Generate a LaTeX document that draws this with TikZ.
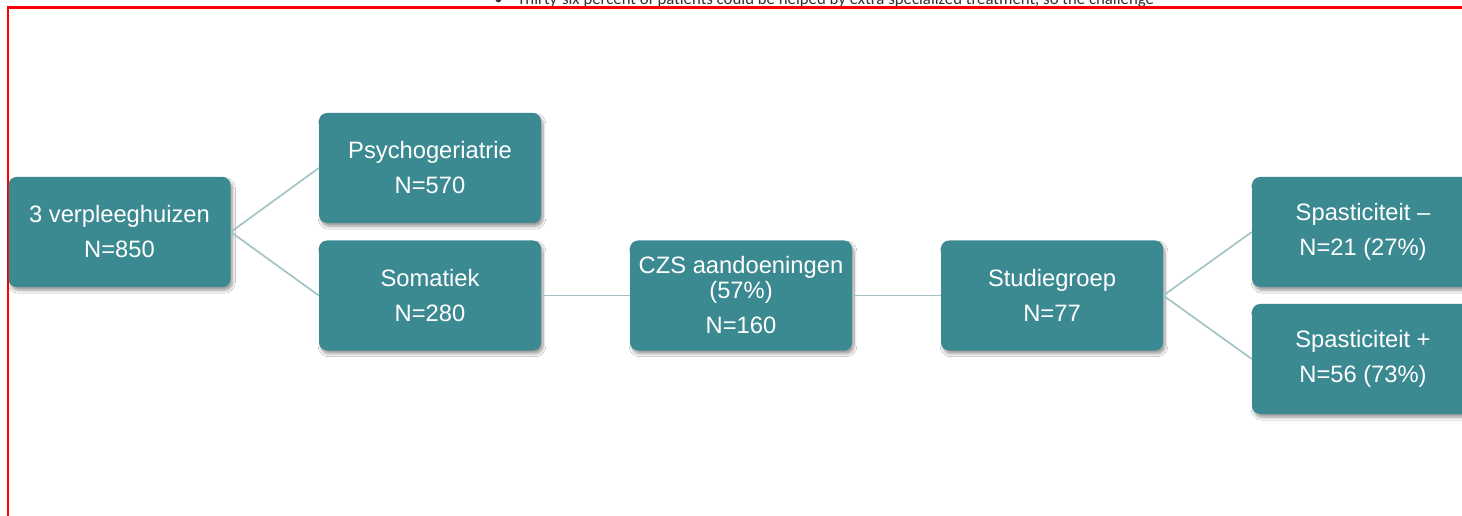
\documentclass[tikz,border=0pt]{standalone}
\usepackage{fontspec}
\setmainfont{Liberation Sans}
\newfontfamily\notefont{Carlito}
\usetikzlibrary{shadows.blur}
\definecolor{boxteal}{HTML}{3C8A91}
\definecolor{linkgrey}{HTML}{A0C2C4}
\definecolor{framered}{HTML}{FF0000}
\tikzset{
  stagebox/.style={fill=boxteal, draw=none, rounded corners=6pt,
    minimum width=166.5pt, minimum height=82.5pt, inner sep=0pt,
    text=white, align=center, font=\fontsize{17.8}{26.25}\selectfont,
    blur shadow={shadow xshift=1.5pt, shadow yshift=-2.5pt, shadow blur steps=8, shadow opacity=40}},
  link/.style={draw=linkgrey, line width=1.2pt}
}
\begin{document}
\begin{tikzpicture}[x=0.75pt,y=-0.75pt]
\useasboundingbox (0,0) rectangle (1462,516);
\clip (0,0) rectangle (1462,516);
\fill[white] (0,0) rectangle (1462,516);
% clipped note text at the top
\node[anchor=base west, inner sep=0pt, font=\notefont\fontsize{12.6}{14}\selectfont, text=black!80] (note) at (494,5) {\textbullet\hspace{11pt}Thirty-six percent of patients could be helped by extra specialized treatment, so the challenge};
\fill[white] (0,7) rectangle (1462,516);
% red frame
\coordinate (fbl) at (8,516);
\coordinate (ftl) at (8,7.5);
\coordinate (ftr) at (1462,7.5);
\draw[framered, line width=1.6pt] (fbl) -- (ftl) -- (ftr);
% boxes
\node[stagebox] (nh) at (119.5,232) {3 verpleeghuizen\\N=850};
\node[stagebox] (psy) at (430,168) {Psychogeriatrie\\N=570};
\node[stagebox] (som) at (430,295.5) {Somatiek\\N=280};
\node[stagebox] (czs) at (741,295.5) {CZS aandoeningen\\[-7.5pt](57\%)\\N=160};
\node[stagebox] (stu) at (1052,295.5) {Studiegroep\\N=77};
\node[stagebox] (smin) at (1363,232) {Spasticiteit –\\N=21 (27\%)};
\node[stagebox] (splus) at (1363,359) {Spasticiteit +\\N=56 (73\%)};
% connectors
\draw[link] (nh.east) -- (psy.west);
\draw[link] (nh.east) -- (som.west);
\draw[link] (som.east) -- (czs.west);
\draw[link] (czs.east) -- (stu.west);
\draw[link] (stu.east) -- (smin.west);
\draw[link] (stu.east) -- (splus.west);
\end{tikzpicture}
\end{document}
